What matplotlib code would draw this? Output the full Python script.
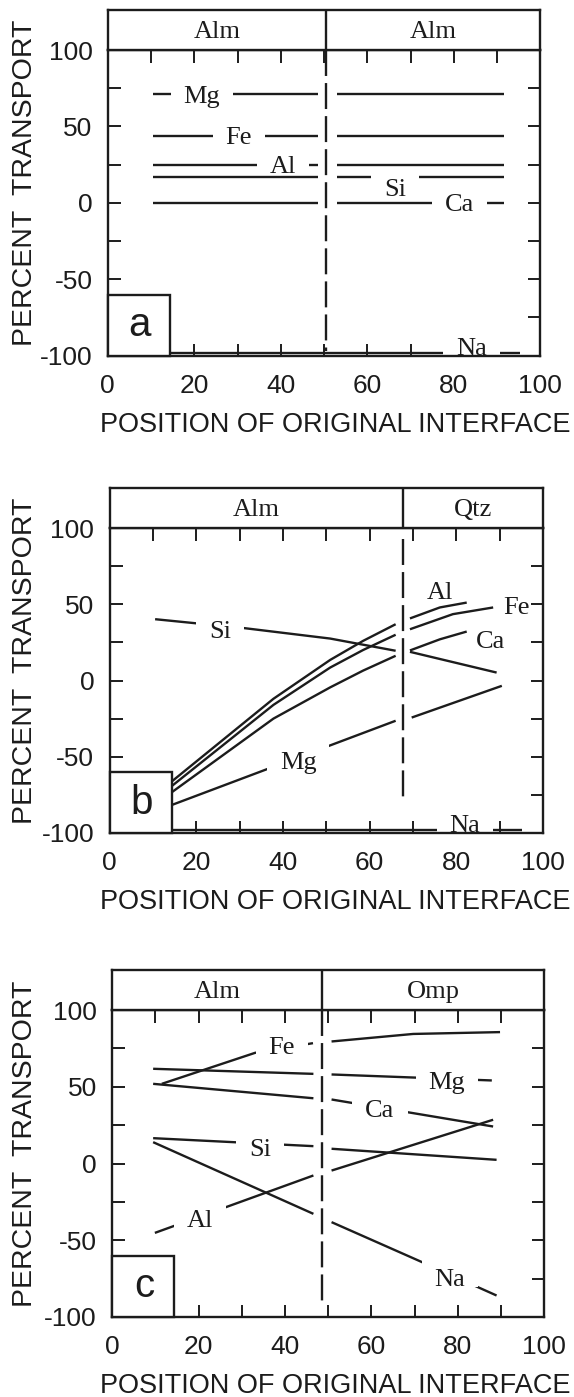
import matplotlib
matplotlib.use("Agg")
import matplotlib.pyplot as plt
from matplotlib.patches import Rectangle
from matplotlib.transforms import IdentityTransform

plt.rcParams['axes.unicode_minus'] = False

W_PX, H_PX, DPI = 574, 1397, 100
INK = '#1c1c1c'
SANS = ['Liberation Sans', 'DejaVu Sans']
SERIF = ['Liberation Serif', 'DejaVu Serif']

# ---------------- data ----------------
x_ticks = [0, 20, 40, 60, 80, 100]
y_ticks = [-100, -50, 0, 50, 100]

# panel a : Alm | Alm
a_minerals = ['Alm', 'Alm']
a_interface = 50.5
a_left_x = [10.5, 48.5]
a_right_x = [53.0, 91.5]
a_mg = [71.0, 71.0]
a_fe = [44.0, 44.0]
a_al = [25.0, 25.0]
a_si = [17.2, 17.2]
a_ca = [0.0, 0.0]
a_na_x = [10.0, 95.3]
a_na = [-98.4, -98.4]
a_labels = ['Mg', 'Fe', 'Al', 'Si', 'Ca', 'Na']
a_label_x = [21.8, 30.3, 40.5, 66.4, 81.3, 84.1]
a_label_y = [71.1, 43.8, 24.9, 9.8, 0.0, -94.0]

# panel b : Alm | Qtz
b_minerals = ['Alm', 'Qtz']
b_interface = 67.7
b_al_left_x = [14.0, 37.8, 50.9, 58.5, 66.0]
b_al_left = [-67.0, -12.0, 13.5, 26.0, 36.9]
b_fe_left_x = [14.0, 37.8, 50.9, 58.5, 66.0]
b_fe_left = [-70.0, -16.0, 8.5, 20.0, 30.0]
b_ca_left_x = [14.0, 37.8, 50.9, 58.5, 66.0]
b_ca_left = [-74.0, -25.0, -4.5, 6.5, 16.2]
b_mg_left_x = [14.0, 66.0]
b_mg_left = [-82.0, -26.4]
b_si_left_x = [10.5, 31.2, 50.9, 66.0]
b_si_left = [40.2, 34.3, 27.5, 19.5]
b_al_right_x = [69.3, 76.2, 82.4]
b_al_right = [40.7, 47.9, 51.1]
b_fe_right_x = [69.3, 79.2, 88.5]
b_fe_right = [33.6, 43.5, 47.9]
b_ca_right_x = [69.3, 76.2, 82.4]
b_ca_right = [19.7, 27.0, 32.1]
b_si_right_x = [69.3, 89.3]
b_si_right = [18.8, 5.2]
b_mg_right_x = [69.7, 90.5]
b_mg_right = [-24.3, -3.5]
b_na_x = [10.0, 95.2]
b_na = [-98.0, -98.0]
b_labels = ['Si', 'Mg', 'Al', 'Fe', 'Ca', 'Na']
b_label_x = [25.5, 43.5, 76.2, 93.9, 88.0, 82.0]
b_label_y = [33.6, -52.7, 58.8, 49.0, 27.1, -94.0]
b_label_gap = [True, True, False, False, False, True]

# panel c : Alm | Omp
c_minerals = ['Alm', 'Omp']
c_interface = 48.7
c_fe_left_x = [11.5, 33.1, 46.5]
c_fe_left = [51.9, 72.1, 78.4]
c_fe_right_x = [50.8, 69.7, 89.8]
c_fe_right = [79.5, 84.4, 85.6]
c_mg_left_x = [9.5, 46.6]
c_mg_left = [61.7, 58.4]
c_mg_right_x = [50.8, 87.9]
c_mg_right = [58.0, 54.1]
c_ca_left_x = [9.5, 46.6]
c_ca_left = [51.9, 42.5]
c_ca_right_x = [50.8, 88.2]
c_ca_right = [41.7, 24.1]
c_si_left_x = [9.5, 46.6]
c_si_left = [16.5, 11.3]
c_si_right_x = [50.8, 89.0]
c_si_right = [9.6, 2.4]
c_na_left_x = [9.5, 46.6]
c_na_left = [13.9, -32.8]
c_na_right_x = [50.8, 70.9, 89.0]
c_na_right = [-38.2, -63.2, -86.0]
c_al_left_x = [9.9, 46.6]
c_al_left = [-45.2, -7.8]
c_al_right_x = [50.8, 88.2]
c_al_right = [-4.6, 28.5]
c_labels = ['Fe', 'Mg', 'Ca', 'Si', 'Al', 'Na']
c_label_x = [39.3, 77.5, 62.0, 34.2, 20.3, 78.2]
c_label_y = [76.9, 54.1, 35.6, 10.6, -36.0, -74.0]

# ---------------- drawing ----------------
LINE_W = 1.7
SPINE_W = 1.7
LABEL_FS = 19
TICK_FS = 19
GAP_PAD_PX = 13

fig = plt.figure(figsize=(W_PX / DPI, H_PX / DPI), dpi=DPI)
gap_texts = []


def make_panel(box, minerals, interface, dash_range, segments, labels,
               lab_x, lab_y, gaps, letter):
    left, right, htop, atop, bottom = box
    ax = fig.add_axes([left / W_PX, 1 - bottom / H_PX,
                       (right - left) / W_PX, (bottom - atop) / H_PX])
    hx = fig.add_axes([left / W_PX, 1 - atop / H_PX,
                       (right - left) / W_PX, (atop - htop) / H_PX])
    # header strip with the two phases
    hx.set_xlim(0, 100)
    hx.set_ylim(0, 1)
    hx.set_xticks([])
    hx.set_yticks([])
    for s in hx.spines.values():
        s.set_linewidth(SPINE_W)
        s.set_color(INK)
    hx.axvline(interface, color=INK, lw=LINE_W)
    hx.text(interface / 2, 0.5, minerals[0], ha='center', va='center_baseline',
            fontsize=LABEL_FS, family=SERIF, color=INK)
    hx.text((interface + 100) / 2, 0.5, minerals[1], ha='center',
            va='center_baseline', fontsize=LABEL_FS, family=SERIF, color=INK)

    # main axes
    ax.set_xlim(0, 100)
    ax.set_ylim(-100, 100)
    ax.set_xticks(x_ticks)
    ax.set_xticks([10, 30, 50, 70, 90], minor=True)
    ax.set_yticks(y_ticks)
    ax.set_yticks([-75, -25, 25, 75], minor=True)
    ax.tick_params(which='both', direction='in', length=9, width=1.4,
                   top=True, right=True, color=INK)
    ax.tick_params(axis='x', which='major', labelsize=TICK_FS, pad=13,
                   labelcolor=INK)
    ax.tick_params(axis='y', which='major', labelsize=TICK_FS, pad=11,
                   labelcolor=INK)
    for lab in ax.get_xticklabels() + ax.get_yticklabels():
        lab.set_family(SANS)
    for s in ax.spines.values():
        s.set_linewidth(SPINE_W)
        s.set_color(INK)

    ax.plot([interface, interface], dash_range, color=INK, lw=LINE_W,
            ls=(0, (11, 3.0)), solid_capstyle='butt')
    for xs, ys in segments:
        ax.plot(xs, ys, color=INK, lw=LINE_W, solid_capstyle='butt',
                solid_joinstyle='round')

    for t, x, y, g in zip(labels, lab_x, lab_y, gaps):
        txt = ax.text(x, y, t, ha='center', va='center_baseline',
                      fontsize=LABEL_FS, family=SERIF, color=INK, zorder=3)
        if g:
            gap_texts.append((ax, txt))

    ax.add_patch(Rectangle((0, -100), 14.4, 40, facecolor='white',
                           edgecolor=INK, lw=SPINE_W, zorder=4, clip_on=False))
    ax.text(7.4, -80, letter, ha='center', va='center', fontsize=29,
            family=SANS, color=INK, zorder=5)

    ax.set_ylabel('PERCENT  TRANSPORT', fontsize=20.5, family=SANS, color=INK)
    width = right - left
    height = bottom - atop
    ax.yaxis.set_label_coords((38 - left) / width,
                              ((bottom - htop) / 2) / height)
    ax.set_xlabel('POSITION OF ORIGINAL INTERFACE', fontsize=19.5,
                  family=SANS, color=INK)
    ax.xaxis.set_label_coords((335 - left) / width, -56 / height)
    return ax


make_panel((107.7, 540.4, 10, 50, 355.7), a_minerals, a_interface, (100, -97),
           [(a_left_x, a_mg), (a_right_x, a_mg), (a_left_x, a_fe),
            (a_right_x, a_fe), (a_left_x, a_al), (a_right_x, a_al),
            (a_left_x, a_si), (a_right_x, a_si), (a_left_x, a_ca),
            (a_right_x, a_ca), (a_na_x, a_na)],
           a_labels, a_label_x, a_label_y, [True] * 6, 'a')

make_panel((109.6, 543.0, 488, 528, 833), b_minerals, b_interface, (92.7, -80),
           [(b_al_left_x, b_al_left), (b_fe_left_x, b_fe_left),
            (b_ca_left_x, b_ca_left), (b_mg_left_x, b_mg_left),
            (b_si_left_x, b_si_left), (b_al_right_x, b_al_right),
            (b_fe_right_x, b_fe_right), (b_ca_right_x, b_ca_right),
            (b_si_right_x, b_si_right), (b_mg_right_x, b_mg_right),
            (b_na_x, b_na)],
           b_labels, b_label_x, b_label_y, b_label_gap, 'b')

make_panel((112.1, 544.1, 970, 1010, 1317), c_minerals, c_interface, (100, -90.4),
           [(c_fe_left_x, c_fe_left), (c_fe_right_x, c_fe_right),
            (c_mg_left_x, c_mg_left), (c_mg_right_x, c_mg_right),
            (c_ca_left_x, c_ca_left), (c_ca_right_x, c_ca_right),
            (c_si_left_x, c_si_left), (c_si_right_x, c_si_right),
            (c_na_left_x, c_na_left), (c_na_right_x, c_na_right),
            (c_al_left_x, c_al_left), (c_al_right_x, c_al_right)],
           c_labels, c_label_x, c_label_y, [True] * 6, 'c')

# white gaps in the curves behind the element labels
fig.canvas.draw()
renderer = fig.canvas.get_renderer()
for ax, txt in gap_texts:
    bb = txt.get_window_extent(renderer)
    _, ya = ax.transData.transform(txt.get_position())
    em = txt.get_fontsize() * DPI / 72.0
    x0 = bb.x0 - GAP_PAD_PX
    x1 = bb.x1 + GAP_PAD_PX
    y0 = ya - 0.38 * em
    y1 = ya + 0.68 * em
    ax.add_patch(Rectangle((x0, y0), x1 - x0, y1 - y0,
                           transform=IdentityTransform(), facecolor='white',
                           edgecolor='none', zorder=2.2))

fig.savefig('out.png', dpi=DPI, facecolor='white')
